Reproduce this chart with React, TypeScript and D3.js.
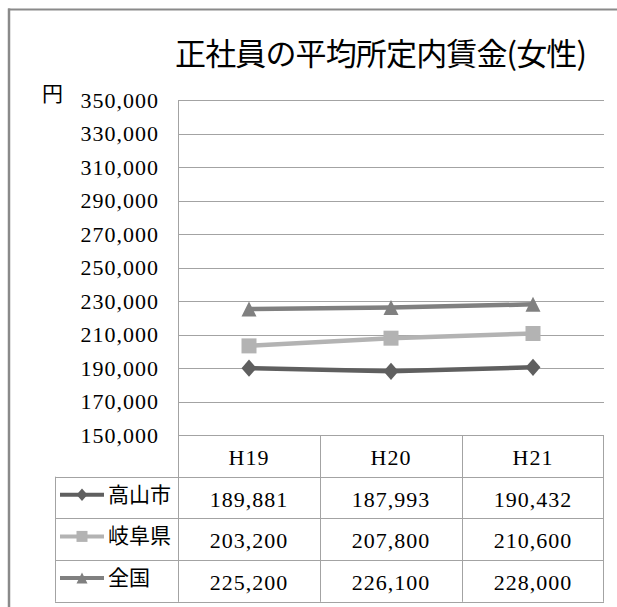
import React from "react";
import * as d3 from "d3";

// Fiscal years shown on the category axis
const categories = ["H19", "H20", "H21"];

// Average monthly scheduled wages for full-time female employees (yen)
const takayama = [189881, 187993, 190432];
const gifu = [203200, 207800, 210600];
const zenkoku = [225200, 226100, 228000];

const seriesNames = ["高山市", "岐阜県", "全国"];
const seriesValues = [takayama, gifu, zenkoku];
const seriesColors = ["#5f5f5f", "#b3b3b3", "#808080"];
const seriesMarkers = ["diamond", "square", "triangle"];

const yTicks = d3.range(150000, 350001, 20000);

const W = 617;
const H = 607;

const plotLeft = 178;
const plotRight = 604;
const plotTop = 100;
const plotBottom = 435;
const rowH = 41.7;

const serif = "Liberation Serif, DejaVu Serif, serif";
const cjk = "Noto Sans CJK JP, Noto Sans, sans-serif";

function markerPath(kind: string, s: number): string {
  const h = s / 2;
  if (kind === "diamond") return `M0,${-h * 1.15}L${h},0L0,${h * 1.15}L${-h},0Z`;
  if (kind === "square") return `M${-h},${-h}H${h}V${h}H${-h}Z`;
  return `M0,${-h}L${h},${h}L${-h},${h}Z`;
}

export default function App() {
  const x = d3.scaleBand<string>().domain(categories).range([plotLeft, plotRight]);
  const y = d3.scaleLinear().domain([150000, 350000]).range([plotBottom, plotTop]);
  const fmt = d3.format(",");
  const cx = (c: string) => (x(c) ?? 0) + x.bandwidth() / 2;

  const line = d3
    .line<number>()
    .x((_, i) => cx(categories[i]))
    .y((v) => y(v));

  const tableTop = plotBottom;
  const rowsTop = tableTop + rowH;
  const legendLeft = 55;
  const gridColor = "#a3a3a3";

  const numStyle = {
    fontFamily: serif,
    fontSize: 22,
    fontWeight: 400,
    letterSpacing: "1px",
  } as React.CSSProperties;

  return (
    <svg
      width={W}
      height={H}
      style={{ position: "absolute", left: 0, top: 0, background: "#fff" }}
    >
      {/* outer frame */}
      <line x1={8} x2={W} y1={9.5} y2={9.5} stroke="#8a8a8a" strokeWidth={2} />
      <line x1={9} x2={9} y1={8.5} y2={H} stroke="#8a8a8a" strokeWidth={2.5} />

      {/* title */}
      <text
        x={175}
        y={65}
        style={{ fontFamily: cjk, fontSize: 31, fontWeight: 400 }}
        textLength={412}
        lengthAdjust="spacing"
        fill="#000"
      >
        正社員の平均所定内賃金(女性)
      </text>

      {/* unit */}
      <text x={42} y={101} style={{ fontFamily: cjk, fontSize: 21, fontWeight: 400 }} fill="#000">
        円
      </text>

      {/* gridlines and y ticks */}
      {yTicks.map((t) => (
        <g key={t}>
          <line
            x1={plotLeft}
            x2={plotRight}
            y1={Math.round(y(t)) + 0.5}
            y2={Math.round(y(t)) + 0.5}
            stroke={gridColor}
            strokeWidth={1}
          />
          <text x={159} y={y(t) + 7.5} textAnchor="end" style={numStyle} fill="#000">
            {fmt(t)}
          </text>
        </g>
      ))}
      <line x1={plotLeft + 0.5} x2={plotLeft + 0.5} y1={plotTop} y2={plotBottom} stroke={gridColor} />

      {/* data table */}
      <g stroke={gridColor} strokeWidth={1} fill="none">
        {[0, 1, 2, 3].map((i) => {
          const yy = Math.round(rowsTop + i * rowH) + 0.5;
          return <line key={"h" + i} x1={legendLeft} x2={plotRight} y1={yy} y2={yy} />;
        })}
        <line x1={legendLeft + 0.5} x2={legendLeft + 0.5} y1={rowsTop} y2={rowsTop + 3 * rowH} />
        {categories.map((c) => (
          <line
            key={"v" + c}
            x1={Math.round(x(c) ?? 0) + 0.5}
            x2={Math.round(x(c) ?? 0) + 0.5}
            y1={tableTop}
            y2={rowsTop + 3 * rowH}
          />
        ))}
        <line x1={plotRight - 0.5} x2={plotRight - 0.5} y1={tableTop} y2={rowsTop + 3 * rowH} />
      </g>

      {categories.map((c) => (
        <text
          key={"c" + c}
          x={cx(c)}
          y={tableTop + rowH / 2 + 9}
          textAnchor="middle"
          style={numStyle}
          fill="#000"
        >
          {c}
        </text>
      ))}

      {seriesNames.map((name, si) => {
        const top = rowsTop + si * rowH;
        const ly = top + 18;
        return (
          <g key={name}>
            <line x1={60} x2={104} y1={ly} y2={ly} stroke={seriesColors[si]} strokeWidth={4} />
            <path
              d={markerPath(seriesMarkers[si], 11)}
              transform={`translate(82,${ly})`}
              fill={seriesColors[si]}
            />
            <text
              x={108}
              y={top + 25}
              style={{ fontFamily: cjk, fontSize: 21, fontWeight: 400 }}
              fill="#000"
            >
              {name}
            </text>
            {seriesValues[si].map((v, i) => (
              <text
                key={i}
                x={cx(categories[i])}
                y={top + rowH / 2 + 9}
                textAnchor="middle"
                style={numStyle}
                fill="#000"
              >
                {fmt(v)}
              </text>
            ))}
          </g>
        );
      })}

      {/* series lines and markers */}
      {seriesValues.map((vals, si) => (
        <g key={"s" + si}>
          <path
            d={line(vals) ?? ""}
            fill="none"
            stroke={seriesColors[si]}
            strokeWidth={4.5}
            strokeLinejoin="round"
          />
          {vals.map((v, i) => (
            <path
              key={i}
              d={markerPath(seriesMarkers[si], 15)}
              transform={`translate(${cx(categories[i])},${y(v)})`}
              fill={seriesColors[si]}
            />
          ))}
        </g>
      ))}
    </svg>
  );
}
